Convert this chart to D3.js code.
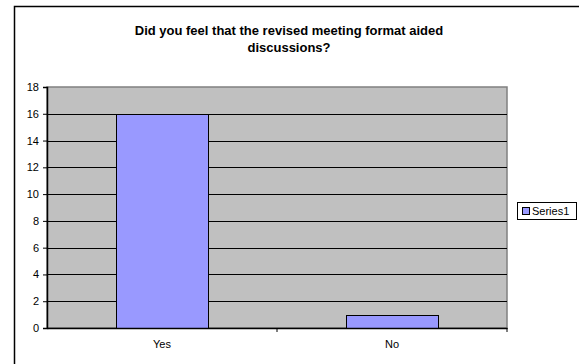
<!DOCTYPE html>
<html>
<head>
<meta charset="utf-8">
<script src="https://cdn.jsdelivr.net/npm/d3@7"></script>
<style>
  html, body { margin: 0; padding: 0; background: #fff; }
  svg { display: block; font-family: Arial, "Liberation Sans", sans-serif; }
</style>
</head>
<body>
<svg id="chart"></svg>
<script>
// chart data
const categories = ["Yes", "No"];
const series1 = [16, 1];
const yTicks = [0, 2, 4, 6, 8, 10, 12, 14, 16, 18];
const titleLines = ["Did you feel that the revised meeting format aided", "discussions?"];
const seriesName = "Series1";

const width = 579;
const height = 364;
const marginTop = 87;
const marginRight = 72;
const marginBottom = 36;
const marginLeft = 47;
const tickFont = 11;

const svg = d3.select("#chart")
  .attr("width", width)
  .attr("height", height)
  .attr("viewBox", [0, 0, width, height]);

// outer chart frame (runs off the right and bottom edges)
svg.append("rect")
  .attr("x", 14.5)
  .attr("y", 6.5)
  .attr("width", width + 10)
  .attr("height", height + 10)
  .attr("fill", "#fff")
  .attr("stroke", "#000")
  .attr("stroke-width", 1.5);

// scales
const x = d3.scaleBand()
  .domain(categories)
  .range([marginLeft, width - marginRight]);

const y = d3.scaleLinear()
  .domain([0, 18])
  .range([height - marginBottom, marginTop]);

// plot background
svg.append("rect")
  .attr("x", x.range()[0])
  .attr("y", y(18))
  .attr("width", x.range()[1] - x.range()[0])
  .attr("height", y(0) - y(18))
  .attr("fill", "#c0c0c0")
  .attr("stroke", "#808080")
  .attr("stroke-width", 1.5);

// gridlines
svg.append("g")
  .attr("stroke", "#000")
  .selectAll("line")
  .data(yTicks.filter((d) => d > 0 && d < 18))
  .join("line")
  .attr("x1", x.range()[0])
  .attr("x2", x.range()[1])
  .attr("y1", (d) => Math.round(y(d)) + 0.5)
  .attr("y2", (d) => Math.round(y(d)) + 0.5);

// bars (Excel gap width 150%)
const barWidth = x.bandwidth() / 2.5;
svg.append("g")
  .attr("fill", "#9999ff")
  .attr("stroke", "#000")
  .selectAll("rect")
  .data(series1)
  .join("rect")
  .attr("x", (d, i) => Math.round(x(categories[i]) + (x.bandwidth() - barWidth) / 2) + 0.5)
  .attr("y", (d) => Math.round(y(d)) + 0.5)
  .attr("width", barWidth)
  .attr("height", (d) => Math.round(y(0)) - Math.round(y(d)));

// y axis
svg.append("g")
  .attr("transform", `translate(${marginLeft},0)`)
  .call(d3.axisLeft(y).tickValues(yTicks).tickSize(4).tickPadding(4).tickFormat(d3.format("d")))
  .call((g) => g.select(".domain").attr("stroke", "#000").attr("stroke-width", 1.5))
  .call((g) => g.selectAll(".tick text").attr("font-size", tickFont).attr("fill", "#000").attr("font-family", "Arial, 'Liberation Sans', sans-serif"));

// x axis
svg.append("g")
  .attr("transform", `translate(0,${height - marginBottom})`)
  .call(d3.axisBottom(x).tickSize(0).tickPadding(12))
  .call((g) => g.select(".domain").attr("stroke", "#000").attr("stroke-width", 1.5))
  .call((g) => g.selectAll(".tick text").attr("font-size", tickFont).attr("fill", "#000").attr("font-family", "Arial, 'Liberation Sans', sans-serif"));

// tick marks between the categories
svg.append("g")
  .attr("stroke", "#000")
  .selectAll("line")
  .data(x.domain())
  .join("line")
  .attr("x1", (d) => x(d) + x.bandwidth())
  .attr("x2", (d) => x(d) + x.bandwidth())
  .attr("y1", y(0))
  .attr("y2", y(0) + 4);

// title
svg.append("text")
  .attr("text-anchor", "middle")
  .attr("font-size", 13)
  .attr("font-weight", "bold")
  .selectAll("tspan")
  .data(titleLines)
  .join("tspan")
  .attr("x", 289)
  .attr("y", (d, i) => 35 + i * 17)
  .text((d) => d);

// legend
const legend = svg.append("g").attr("transform", "translate(517,202)");
legend.append("rect")
  .attr("x", 0.5).attr("y", 0.5)
  .attr("width", 59).attr("height", 17)
  .attr("fill", "#fff").attr("stroke", "#000");
legend.append("rect")
  .attr("x", 5.5).attr("y", 5.5)
  .attr("width", 7).attr("height", 7)
  .attr("fill", "#9999ff").attr("stroke", "#000");
legend.append("text")
  .attr("x", 15).attr("y", 13)
  .attr("font-size", tickFont)
  .text(seriesName);
</script>
</body>
</html>
